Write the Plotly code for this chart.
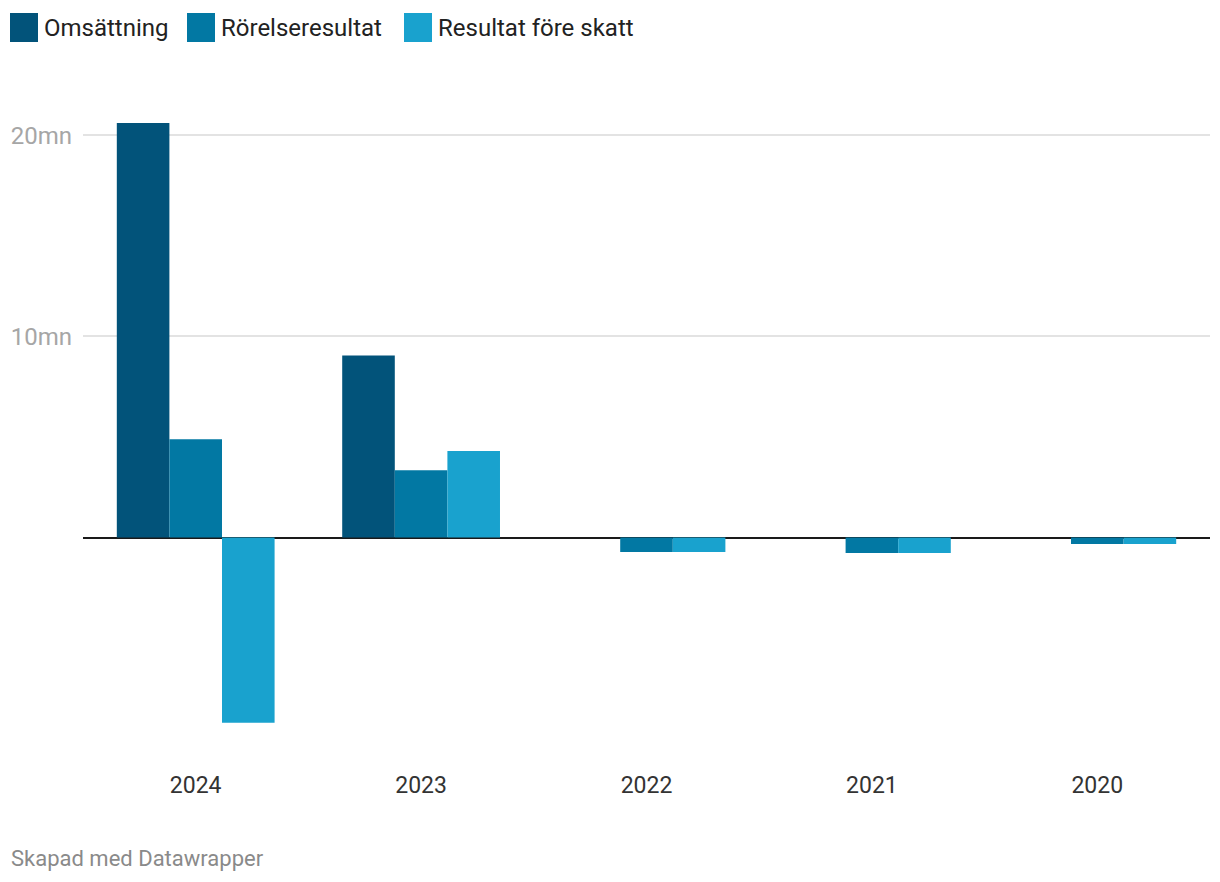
import plotly.graph_objects as go

years = ["2024", "2023", "2022", "2021", "2020"]
omsattning = [20.6, 9.05, 0, 0, 0]
rorelseresultat = [4.89, 3.35, -0.72, -0.77, -0.32]
resultat_fore_skatt = [-9.2, 4.3, -0.72, -0.77, -0.32]
series_names = ["Omsättning", "Rörelseresultat", "Resultat före skatt"]
colors = ["#02537a", "#0278a3", "#19a2ce"]
y_tickvals = [10, 20]
y_ticktext = ["10mn", "20mn"]

OFF = 8  # page body margin
W, H = 1220 - 2 * OFF, 882 - 2 * OFF
PLOT_L, PLOT_R, PLOT_T, PLOT_B = 83, 1210, 115, 763  # target page pixels
L, T = PLOT_L - OFF, PLOT_T - OFF
R, B = W - (PLOT_R - OFF), H - (PLOT_B - OFF)
PW, PH = W - L - R, H - T - B


def px_x(px):
    return (px - OFF - L) / PW


def px_y(py):
    return 1 - (py - OFF - T) / PH


fig = go.Figure()
for name, vals, col in zip(series_names, [omsattning, rorelseresultat, resultat_fore_skatt], colors):
    fig.add_trace(go.Bar(x=years, y=vals, name=name, marker=dict(color=col, line=dict(width=0)),
                         showlegend=False))

# custom legend
legend_x = [10, 187, 404]
shapes = []
annotations = []
for name, col, lx in zip(series_names, colors, legend_x):
    shapes.append(dict(type="rect", xref="paper", yref="paper",
                       x0=px_x(lx), x1=px_x(lx + 28), y0=px_y(42), y1=px_y(13),
                       fillcolor=col, line=dict(width=0)))
    annotations.append(dict(xref="paper", yref="paper", x=px_x(lx + 32), y=px_y(28),
                            xanchor="left", yanchor="middle", text=name, showarrow=False,
                            font=dict(size=24, color="#222222", family="Roboto")))

annotations.append(dict(xref="paper", yref="paper", x=px_x(9), y=px_y(858),
                        xanchor="left", yanchor="middle", text="Skapad med Datawrapper",
                        showarrow=False, font=dict(size=22, color="#8a8a8a", family="Roboto")))

fig.update_layout(
    width=W, height=H,
    margin=dict(l=L, r=R, t=T, b=B, autoexpand=False),
    paper_bgcolor="white", plot_bgcolor="white",
    barmode="group", bargap=0.3, bargroupgap=0,
    font=dict(family="Roboto", color="#333333"),
    shapes=shapes, annotations=annotations,
    xaxis=dict(type="category", range=[-0.5, 4.5], showgrid=False, zeroline=False,
               showline=False, ticks="", tickfont=dict(size=23, color="#333333"),
               ticklabelstandoff=6),
    yaxis=dict(range=[-11.2, 21.0], tickvals=y_tickvals, ticktext=y_ticktext,
               showgrid=True, gridcolor="#e3e3e3", gridwidth=1.5,
               zeroline=True, zerolinecolor="#1a1a1a", zerolinewidth=2,
               showline=False, ticks="", ticklabelstandoff=10,
               tickfont=dict(size=24, color="#a6a6a6")),
)

fig.write_html("out.html")
